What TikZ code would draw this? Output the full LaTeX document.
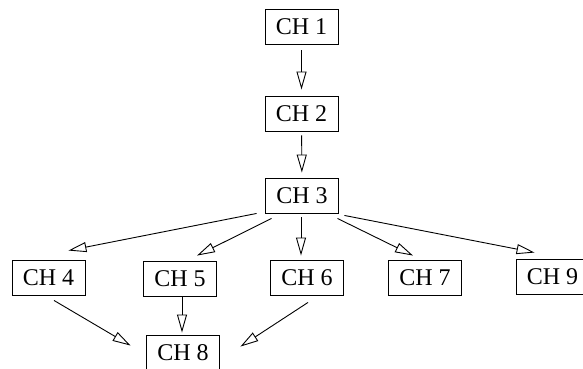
\documentclass[tikz,border=0pt]{standalone}
\usepackage{fontspec}
\setmainfont{Liberation Serif}
\usetikzlibrary{arrows.meta,calc}

\begin{document}
\begin{tikzpicture}[x=1pt,y=-1pt,
  chbox/.style={draw,line width=0.9pt,minimum width=73pt,minimum height=35pt,
    inner sep=0pt,font=\fontsize{24}{24}\selectfont},
  arr/.style={line width=0.9pt,-{Triangle[open,length=18pt,width=10pt]}}]
\useasboundingbox (0,0) rectangle (583,368);
\clip (0,0) rectangle (583,368);

% chapters
\node[chbox] (ch1) at (301.5,27)  {CH 1};
\node[chbox] (ch2) at (301.5,114) {CH 2};
\node[chbox] (ch3) at (302,195.5) {CH 3};
\node[chbox] (ch4) at (48.5,277.5) {CH 4};
\node[chbox] (ch5) at (180,278.5) {CH 5};
\node[chbox] (ch6) at (307,278)   {CH 6};
\node[chbox] (ch7) at (425,278)   {CH 7};
\node[chbox] (ch9) at (552.5,276.5) {CH 9};
\node[chbox] (ch8) at (183,352.5) {CH 8};

% dependencies
\draw[arr,shorten <=5.5pt,shorten >=6.5pt] (ch1) -- (ch2);
\draw[arr,shorten <=3.5pt,shorten >=5pt] (ch2) -- (ch3);
\draw[arr] ($(ch3.south west)+(-8.5,0)$) -- ($(ch4.north east)+(-17,-9)$);
\draw[arr] ($(ch3.south west)+(6.5,5)$) -- ($(ch5.north)+(17,-5)$);
\draw[arr] ($(ch3.south)+(-1,4)$) -- ($(ch6.north)+(-6,-4.5)$);
\draw[arr] ($(ch3.south east)+(-1.5,5)$) -- ($(ch7.north)+(-12,-4.5)$);
\draw[arr] ($(ch3.south east)+(5.5,2)$) -- ($(ch9.north west)+(19,-6)$);
\draw[arr] ($(ch4.south)+(5.5,5)$) -- ($(ch8.north west)+(-15.5,11)$);
\draw[arr] ($(ch5.south)+(2,1)$) -- ($(ch8.north)+(-1,-2)$);
\draw[arr] ($(ch6.south)+(1,6.5)$) -- ($(ch8.north east)+(20.5,12)$);
\end{tikzpicture}
\end{document}
